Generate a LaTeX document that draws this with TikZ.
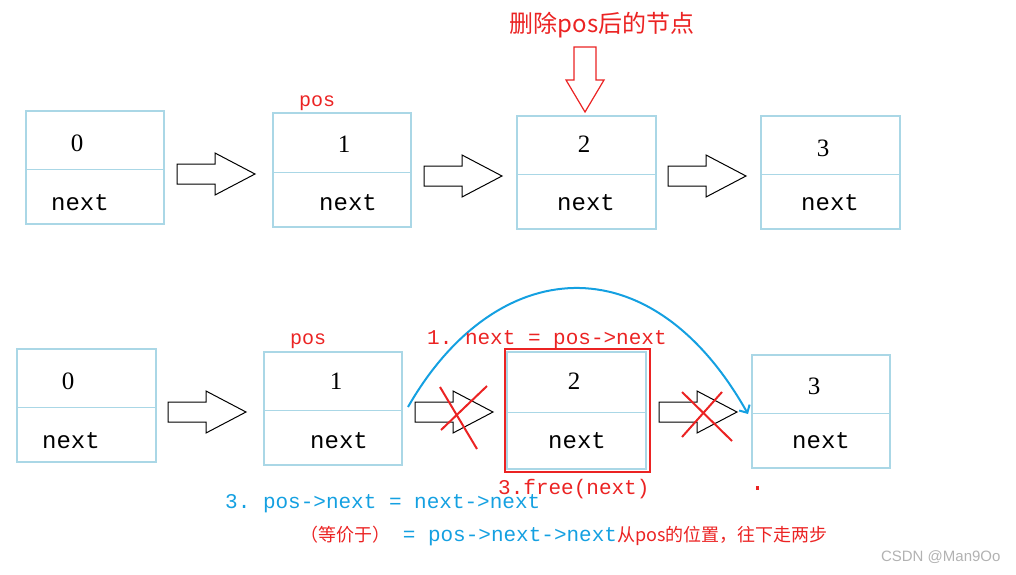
\documentclass[tikz,border=0pt]{standalone}
\usetikzlibrary{arrows.meta}
\usepackage{fontspec}
\setmainfont{Liberation Serif}
\setmonofont{Liberation Mono}
\newfontfamily\cjk{Noto Sans CJK SC}
\definecolor{bx}{RGB}{170,215,230}
\definecolor{rd}{RGB}{235,35,35}
\definecolor{bl}{RGB}{20,160,225}
\begin{document}
\begin{tikzpicture}[x=1pt,y=-1pt,
  cell/.style={draw=bx,line width=1.2pt},
  blk/.style={draw=black,line width=1pt,fill=white},
  txt/.style={inner sep=0pt,anchor=base west},
  cross/.style={draw=rd,line width=2pt}]
\useasboundingbox (0,0) rectangle (1016,574);
\newcommand{\lbox}[5]{% name, x1,y1,x2,y2 ; divider computed
  \draw[cell] (#2,#3) rectangle (#4,#5);
  \draw[cell] (#2,{#3+0.52*(#5-#3)}) -- (#4,{#3+0.52*(#5-#3)});
}
\newcommand{\barrow}[3]{% x, y center, name
  \draw[blk] (#1,#2-10) -- (#1+38,#2-10) -- (#1+38,#2-21) -- (#1+78,#2) -- (#1+38,#2+21) -- (#1+38,#2+10) -- (#1,#2+10) -- cycle;
  \coordinate (#3) at (#1,#2);
}
% top row
\lbox{a}{26}{111}{164}{224}
\lbox{b}{273}{113}{411}{227}
\lbox{c}{517}{116}{656}{229}
\lbox{d}{761}{116}{900}{229}
\node[font=\fontsize{25}{26}\selectfont] (t0) at (77,143) {0};
\node[font=\fontsize{25}{26}\selectfont] (t1) at (344,144) {1};
\node[font=\fontsize{25}{26}\selectfont] (t2) at (584,144) {2};
\node[font=\fontsize{25}{26}\selectfont] (t3) at (823,148) {3};
\foreach \x/\y in {80/203,348/203,586/203,830/203}
  \node[font=\ttfamily\fontsize{24}{24}\selectfont] at (\x,\y) {next};
\barrow{177}{174}{ar1}
\barrow{424}{176}{ar2}
\barrow{668}{176}{ar3}
\node[txt,text=rd,font=\ttfamily\fontsize{20}{20}\selectfont] (pos1) at (299,106) {pos};
\node[text=rd,font=\cjk\fontsize{24}{26}\selectfont] (title) at (602,25) {删除pos后的节点};
\draw[draw=rd,line width=1.2pt,fill=white] (574,47) -- (596,47) -- (596,80) -- (604,80) -- (585,112) -- (566,80) -- (574,80) -- cycle;
% bottom row
\lbox{e}{17}{349}{156}{462}
\lbox{f}{264}{352}{402}{465}
\lbox{g}{507}{352}{646}{469}
\lbox{h}{752}{355}{890}{468}
\node[font=\fontsize{25}{26}\selectfont] at (68,381) {0};
\node[font=\fontsize{25}{26}\selectfont] at (336,381) {1};
\node[font=\fontsize{25}{26}\selectfont] at (574,381) {2};
\node[font=\fontsize{25}{26}\selectfont] at (814,386) {3};
\foreach \x/\y in {71/441,339/441,577/441,821/441}
  \node[font=\ttfamily\fontsize{24}{24}\selectfont] at (\x,\y) {next};
\barrow{168}{412}{ar4}
\barrow{415}{412}{ar5}
\barrow{659}{412}{ar6}
\draw[rd,line width=2.5pt] (505,349) rectangle (650,472);
\node[txt,text=rd,font=\ttfamily\fontsize{20}{20}\selectfont] at (290,344) {pos};
\draw[cross] (440,387) -- (477,449);
\draw[cross] (487,386) -- (441,430);
\draw[cross] (682,392) -- (732,441);
\draw[cross] (722,392) -- (682,437);
\coordinate (cs) at (408,407);
\coordinate (ce) at (748,414);
\draw[bl,line width=2pt,-{Straight Barb[length=6pt]}] (cs) .. controls (495,255) and (650,240) .. (ce);
\node[txt,text=rd,font=\ttfamily\fontsize{21}{22}\selectfont] at (427,344) {1. next = pos->next};
\node[txt,text=bl,font=\ttfamily\fontsize{21}{22}\selectfont] at (225,508) {3. pos->next = next->next};
\node[txt,text=rd,font=\ttfamily\fontsize{21}{22}\selectfont] at (498,494) {3.free(next)};
\node[txt,font=\fontsize{20}{22}\selectfont] at (300,541) {\textcolor{rd}{\cjk\fontsize{18}{20}\selectfont （等价于）}\textcolor{bl}{\ttfamily\fontsize{21}{22}\selectfont{} = pos->next->next}\textcolor{rd}{\cjk\fontsize{18}{20}\selectfont 从pos的位置，往下走两步}};
\fill[rd] (756,486) rectangle (759,490);
\node[anchor=east,text=gray!60,font=\fontspec{Liberation Sans}\fontsize{15}{16}\selectfont] at (1004,557) {CSDN @Man9Oo};
\end{tikzpicture}
\end{document}
